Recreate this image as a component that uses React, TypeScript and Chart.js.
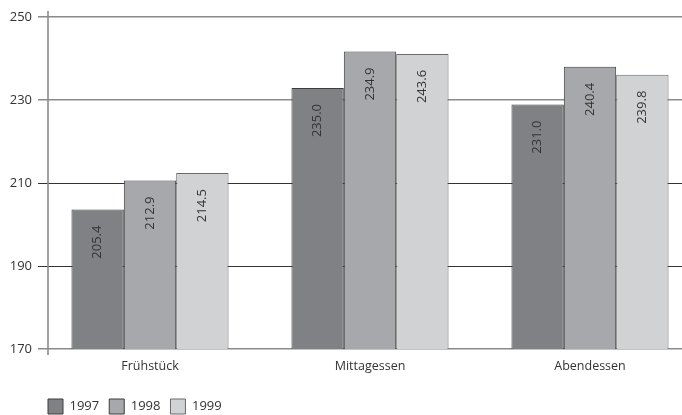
import React, { useEffect, useRef } from "react";
import { Chart, registerables } from "chart.js";

Chart.register(...registerables);

const categories = ["Frühstück", "Mittagessen", "Abendessen"];
const seriesNames = ["1997", "1998", "1999"];
const values1997 = [203.6, 232.9, 228.9];
const values1998 = [210.6, 241.7, 238.0];
const values1999 = [212.4, 241.1, 236.1];
const labels1997 = ["205.4", "235.0", "231.0"];
const labels1998 = ["212.9", "234.9", "240.4"];
const labels1999 = ["214.5", "243.6", "239.8"];
const yTicks = [170, 190, 210, 230, 250];

const FONT = "'Open Sans', 'DejaVu Sans', sans-serif";

const valueLabelPlugin = {
  id: "valueLabels",
  afterDatasetsDraw(chart: any) {
    const ctx = chart.ctx;
    chart.data.datasets.forEach((ds: any, di: number) => {
      const meta = chart.getDatasetMeta(di);
      meta.data.forEach((bar: any, i: number) => {
        const txt = ds.valueLabels[i];
        ctx.save();
        ctx.translate(bar.x, bar.y + 16);
        ctx.rotate(-Math.PI / 2);
        ctx.font = `13px ${FONT}`;
        ctx.fillStyle = "#333333";
        ctx.textAlign = "right";
        ctx.textBaseline = "middle";
        ctx.fillText(txt, 0, 0);
        ctx.restore();
      });
    });
  },
};

const axisLinePlugin = {
  id: "axisLine",
  afterDatasetsDraw(chart: any) {
    const { ctx, chartArea } = chart;
    const x = chartArea.left + 8;
    ctx.save();
    ctx.strokeStyle = "#8a8a8a";
    ctx.lineWidth = 1.6;
    ctx.beginPath();
    ctx.moveTo(x, chartArea.top - 6);
    ctx.lineTo(x, chartArea.bottom + 6);
    ctx.stroke();
    ctx.restore();
  },
};

const legendShiftPlugin = {
  id: "legendShift",
  afterLayout(chart: any) {
    if (chart.legend) {
      chart.legend.left += 38;
      chart.legend.right += 38;
      chart.legend.top += 13;
      chart.legend.bottom += 13;
    }
  },
};

export default function App() {
  const ref = useRef<HTMLCanvasElement | null>(null);
  useEffect(() => {
    if (!ref.current) return;
    const fills = ["#808184", "#a7a8ab", "#d1d2d4"];
    const borders = ["#3c3c3c", "#3c3c3c", "#6a6a6a"];
    const vals = [values1997, values1998, values1999];
    const labs = [labels1997, labels1998, labels1999];
    const chart = new Chart(ref.current, {
      type: "bar",
      data: {
        labels: categories,
        datasets: seriesNames.map((n, i) => ({
          label: n,
          data: vals[i],
          valueLabels: labs[i],
          backgroundColor: fills[i],
          borderColor: borders[i],
          borderWidth: 1,
          categoryPercentage: 0.714,
          barPercentage: 1,
        })) as any,
      },
      options: {
        animation: false,
        responsive: true,
        maintainAspectRatio: false,
        layout: { padding: { top: 17, left: 0, right: 0, bottom: 4 } },
        plugins: {
          tooltip: { enabled: false },
          legend: {
            position: "bottom",
            align: "start",
            labels: {
              boxWidth: 15,
              boxHeight: 15,
              padding: 10,
              color: "#333333",
              font: { family: FONT, size: 13 },
            },
          },
        },
        scales: {
          x: {
            grid: { display: false },
            border: { display: false },
            ticks: {
              color: "#333333",
              font: { family: FONT, size: 12.5 },
              padding: 2,
            },
          },
          y: {
            min: 170,
            max: 250,
            afterFit: (scale: any) => {
              scale.width = 40;
            },
            afterBuildTicks: (scale: any) => {
              scale.ticks = yTicks.map((v) => ({ value: v }));
            },
            border: { display: false },
            grid: {
              tickLength: 2,
              color: (c: any) =>
                c.tick && (c.tick.value === 210 || c.tick.value === 190)
                  ? "#333333"
                  : "#8a8a8a",
              lineWidth: (c: any) =>
                c.tick && (c.tick.value === 210 || c.tick.value === 190)
                  ? 1
                  : 1.6,
            },
            ticks: {
              color: "#333333",
              font: { family: FONT, size: 13 },
              padding: 6,
            },
          },
        },
      },
      plugins: [valueLabelPlugin, axisLinePlugin, legendShiftPlugin],
    } as any);
    return () => chart.destroy();
  }, []);
  return (
    <div
      style={{
        position: "fixed",
        left: 0,
        top: 0,
        width: 682,
        height: 415,
        overflow: "hidden",
        background: "#ffffff",
      }}
    >
      <div style={{ position: "relative", width: 700, height: 415 }}>
        <canvas ref={ref} />
      </div>
    </div>
  );
}
